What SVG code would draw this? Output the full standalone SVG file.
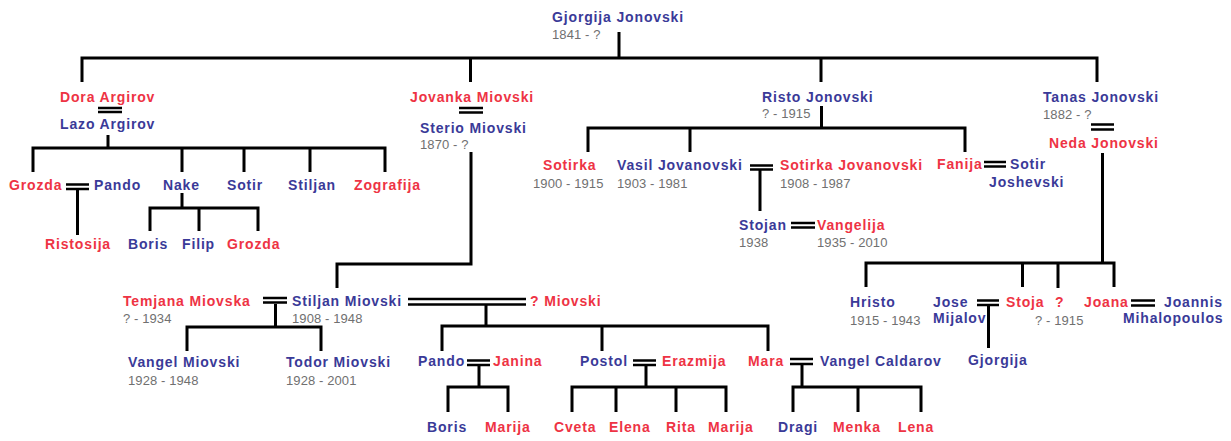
<svg xmlns="http://www.w3.org/2000/svg" width="1231" height="441" viewBox="0 0 1231 441">
<style>
text{font-family:"Liberation Sans",Arial,sans-serif}
.b{fill:#3a3a98;font-size:14px;font-weight:bold;letter-spacing:0.85px}
.r{fill:#ee3344;font-size:14px;font-weight:bold;letter-spacing:0.85px}
.d{fill:#707070;font-size:13px;letter-spacing:0.1px}
.ln{fill:none;stroke:#000;stroke-width:3}
.mar{fill:none;stroke:#000;stroke-width:2.5}
</style>
<rect width="1231" height="441" fill="#fff"/>
<g id="connectors">
<path class="ln" d="M619,32V58M82,82V58H1097V82M470.5,58V82M821,58V82"/>
<path class="ln" d="M108,135V148M33,172V148H385V172M182,148V172M244,148V172M310,148V172"/>
<path class="mar" d="M98,108H122M98,112H122"/>
<path class="mar" d="M66,184.5H89M66,189H89"/>
<path class="ln" d="M77.5,190V235"/>
<path class="ln" d="M182,193V208M150,231V208H258V231M199,208V231"/>
<path class="mar" d="M459,108H483M459,112.5H483"/>
<path class="ln" d="M471,152V264H337V288"/>
<path class="ln" d="M821.5,106V128M588,152V128H965V152M690,128V152"/>
<path class="mar" d="M750,165.5H773M750,169.5H773"/>
<path class="ln" d="M760,170V211"/>
<path class="mar" d="M984,162H1006M984,166.5H1006"/>
<path class="mar" d="M791,223H815M791,227.5H815"/>
<path class="mar" d="M1091,124.5H1114M1091,129.5H1114"/>
<path class="ln" d="M1102.5,153V263M866,287V263H1114V287M1022.5,263V287M1058,263V288"/>
<path class="mar" d="M977,300.5H999M977,305H999"/>
<path class="ln" d="M988.5,306V348"/>
<path class="mar" d="M1131,300.5H1155M1131,305.5H1155"/>
<path class="mar" d="M263,298H287M263,302.5H287"/>
<path class="ln" d="M275.5,304V327M187,351V327H321V351"/>
<path class="mar" d="M408,299H526M408,304.5H526"/>
<path class="ln" d="M486,305V326M442,351V326H768V351M602,326V351"/>
<path class="mar" d="M467,360.5H490M467,365H490"/>
<path class="ln" d="M479,366V387M448,412V387H508V412"/>
<path class="mar" d="M633,360.5H656M633,365H656"/>
<path class="ln" d="M646,366V387M572,412V387H726V412M616,387V412M676,387V412"/>
<path class="mar" d="M790,359H813M790,364H813"/>
<path class="ln" d="M802,365V387M793,412V387H921V412M858,387V412"/>
</g>
<g id="n-gjorgija"><text class="b" x="552" y="22">Gjorgija Jonovski</text><text class="d" x="552" y="39">1841 - ?</text></g>
<g id="n-dora"><text class="r" x="60" y="102">Dora Argirov</text></g>
<g id="n-lazo"><text class="b" x="60" y="129">Lazo Argirov</text></g>
<g id="n-jovanka"><text class="r" x="410" y="102">Jovanka Miovski</text></g>
<g id="n-sterio"><text class="b" x="420" y="133">Sterio Miovski</text><text class="d" x="420" y="149">1870 - ?</text></g>
<g id="n-risto"><text class="b" x="762" y="102">Risto Jonovski</text><text class="d" x="762" y="118">? - 1915</text></g>
<g id="n-tanas"><text class="b" x="1043" y="102">Tanas Jonovski</text><text class="d" x="1043" y="119">1882 - ?</text></g>
<g id="n-neda"><text class="r" x="1049" y="148">Neda Jonovski</text></g>
<g id="n-grozda1"><text class="r" x="9" y="190">Grozda</text></g>
<g id="n-pando1"><text class="b" x="94" y="190">Pando</text></g>
<g id="n-nake"><text class="b" x="163" y="190">Nake</text></g>
<g id="n-sotir1"><text class="b" x="227" y="190">Sotir</text></g>
<g id="n-stiljan1"><text class="b" x="288" y="190">Stiljan</text></g>
<g id="n-zografija"><text class="r" x="354" y="190">Zografija</text></g>
<g id="n-ristosija"><text class="r" x="45" y="249">Ristosija</text></g>
<g id="n-boris1"><text class="b" x="128" y="249">Boris</text></g>
<g id="n-filip"><text class="b" x="182" y="249">Filip</text></g>
<g id="n-grozda2"><text class="r" x="227" y="249">Grozda</text></g>
<g id="n-sotirka1"><text class="r" x="543" y="170">Sotirka</text><text class="d" x="533" y="188">1900 - 1915</text></g>
<g id="n-vasil"><text class="b" x="617" y="170">Vasil Jovanovski</text><text class="d" x="617" y="188">1903 - 1981</text></g>
<g id="n-sotirka2"><text class="r" x="780" y="170">Sotirka Jovanovski</text><text class="d" x="780" y="188">1908 - 1987</text></g>
<g id="n-fanija"><text class="r" x="937" y="169">Fanija</text></g>
<g id="n-sotir2"><text class="b" x="1010" y="169">Sotir</text><text class="b" x="989" y="187">Joshevski</text></g>
<g id="n-stojan"><text class="b" x="739" y="230">Stojan</text><text class="d" x="739" y="247">1938</text></g>
<g id="n-vangelija"><text class="r" x="817" y="230">Vangelija</text><text class="d" x="817" y="247">1935 - 2010</text></g>
<g id="n-hristo"><text class="b" x="850" y="307">Hristo</text><text class="d" x="850" y="325">1915 - 1943</text></g>
<g id="n-jose"><text class="b" x="933" y="307">Jose</text><text class="b" x="933" y="323">Mijalov</text></g>
<g id="n-stoja"><text class="r" x="1006" y="307">Stoja</text></g>
<g id="n-unknown1"><text class="r" x="1055" y="307">?</text><text class="d" x="1035" y="325">? - 1915</text></g>
<g id="n-joana"><text class="r" x="1084" y="307">Joana</text></g>
<g id="n-joannis"><text class="b" x="1164" y="307">Joannis</text><text class="b" x="1123" y="323">Mihalopoulos</text></g>
<g id="n-gjorgija2"><text class="b" x="968" y="365">Gjorgija</text></g>
<g id="n-temjana"><text class="r" x="123" y="306">Temjana Miovska</text><text class="d" x="123" y="323">? - 1934</text></g>
<g id="n-stiljan2"><text class="b" x="292" y="306">Stiljan Miovski</text><text class="d" x="292" y="323">1908 - 1948</text></g>
<g id="n-miovski"><text class="r" x="530" y="306">? Miovski</text></g>
<g id="n-vangel1"><text class="b" x="128" y="367">Vangel Miovski</text><text class="d" x="128" y="385">1928 - 1948</text></g>
<g id="n-todor"><text class="b" x="286" y="367">Todor Miovski</text><text class="d" x="286" y="385">1928 - 2001</text></g>
<g id="n-pando2"><text class="b" x="418" y="366">Pando</text></g>
<g id="n-janina"><text class="r" x="493" y="366">Janina</text></g>
<g id="n-postol"><text class="b" x="580" y="366">Postol</text></g>
<g id="n-erazmija"><text class="r" x="662" y="366">Erazmija</text></g>
<g id="n-mara"><text class="r" x="748" y="366">Mara</text></g>
<g id="n-vangel2"><text class="b" x="820" y="366">Vangel Caldarov</text></g>
<g id="n-boris2"><text class="b" x="427" y="432">Boris</text></g>
<g id="n-marija1"><text class="r" x="485" y="432">Marija</text></g>
<g id="n-cveta"><text class="r" x="554" y="432">Cveta</text></g>
<g id="n-elena"><text class="r" x="609" y="432">Elena</text></g>
<g id="n-rita"><text class="r" x="666" y="432">Rita</text></g>
<g id="n-marija2"><text class="r" x="708" y="432">Marija</text></g>
<g id="n-dragi"><text class="b" x="778" y="432">Dragi</text></g>
<g id="n-menka"><text class="r" x="833" y="432">Menka</text></g>
<g id="n-lena"><text class="r" x="898" y="432">Lena</text></g>
</svg>
